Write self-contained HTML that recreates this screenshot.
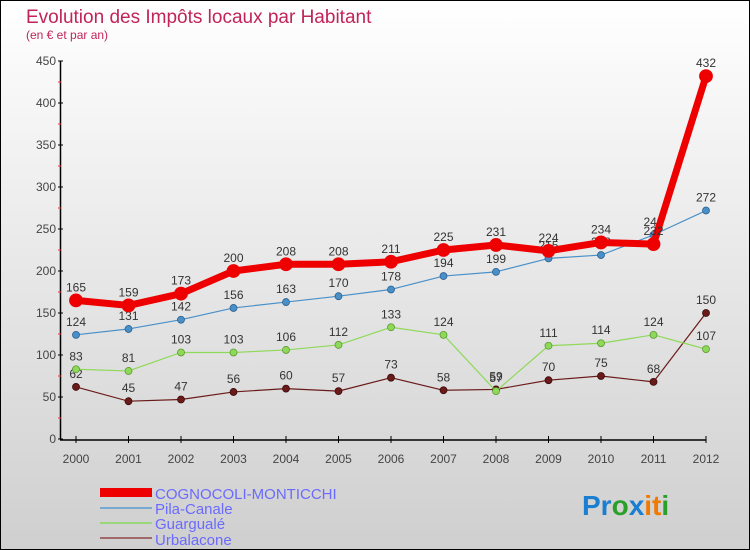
<!DOCTYPE html>
<html><head><meta charset="utf-8"><style>
body{margin:0}
svg{display:block;font-family:"Liberation Sans",sans-serif}
</style></head><body>
<svg width="750" height="550">
<defs><linearGradient id="bg" x1="0" y1="0" x2="0" y2="1"><stop offset="0" stop-color="#ffffff"/><stop offset="1" stop-color="#cfcfcf"/></linearGradient></defs>
<rect x="0.5" y="0.5" width="749" height="549" fill="url(#bg)" stroke="#000"/>
<text x="26" y="23" font-size="19" fill="#c0245a">Evolution des Impôts locaux par Habitant</text>
<text x="26" y="39" font-size="12" fill="#c0245a">(en € et par an)</text>
<g id="axes"></g>
<g id="series"></g>
<g>
<rect x="100" y="488" width="52" height="9" fill="#ee0000"/>
<text x="155" y="499" font-size="15" fill="#6a6aff">COGNOCOLI-MONTICCHI</text>
<rect x="100" y="507" width="52" height="2" fill="#7aa9cf"/>
<text x="155" y="514" font-size="15" fill="#6a6aff">Pila-Canale</text>
<rect x="100" y="522" width="52" height="2" fill="#9ad67a"/>
<text x="155" y="529" font-size="15" fill="#6a6aff">Guargualé</text>
<rect x="100" y="537" width="52" height="2" fill="#a06a6a"/>
<text x="155" y="545" font-size="15" fill="#6a6aff">Urbalacone</text>
</g>
<g font-size="28" font-weight="bold">
<text x="582" y="515"><tspan fill="#1a7fd0">Pr</tspan><tspan fill="#2aa02a">o</tspan><tspan fill="#1a7fd0">x</tspan><tspan fill="#f07a00">it</tspan><tspan fill="#2aa02a">i</tspan></text>
</g>
</svg>
<script>
const years=[2000,2001,2002,2003,2004,2005,2006,2007,2008,2009,2010,2011,2012];
const yTicks=[0,50,100,150,200,250,300,350,400,450];
const cognocoli=[165,159,173,200,208,208,211,225,231,224,234,232,432];
const pila=[124,131,142,156,163,170,178,194,199,215,219,243,272];
const guarguale=[83,81,103,103,106,112,133,124,57,111,114,124,107];
const urbalacone=[62,45,47,56,60,57,73,58,59,70,75,68,150];
const NS='http://www.w3.org/2000/svg';
const xs=i=>76+i*52.5;
const ys=v=>439-v*(378/450);
function mk(tag,attrs,parent){const e=document.createElementNS(NS,tag);for(const k in attrs)e.setAttribute(k,attrs[k]);parent.appendChild(e);return e;}
const ax=document.getElementById('axes');
let l=mk('line',{x1:60.5,y1:ys(450),x2:60.5,y2:ys(0),stroke:'#000','stroke-width':1.5},ax);


l=mk('line',{x1:60,y1:ys(0)+1,x2:706,y2:ys(0)+1,stroke:'#000','stroke-width':1.5},ax);


yTicks.forEach(v=>{
  mk('line',{x1:58,y1:ys(v),x2:63,y2:ys(v),stroke:'#000'},ax);
  if(v<450){mk('line',{x1:58,y1:ys(v+25),x2:61,y2:ys(v+25),stroke:'#e33'},ax);}
  const t=mk('text',{x:56,y:ys(v)+4,'font-size':12,fill:'#444','text-anchor':'end'},ax);
  t.textContent=v;
  
  
});
years.forEach((y,i)=>{
  mk('line',{x1:xs(i),y1:ys(0)-3,x2:xs(i),y2:ys(0)+4,stroke:'#000'},ax);
  const t=mk('text',{x:xs(i),y:ys(0)+24,'font-size':12,fill:'#444','text-anchor':'middle'},ax);
  t.textContent=y;
  
  
});
const sg=document.getElementById('series');
function draw(name,vals,color,w,r,stroke){
  const g=mk('g',{},sg);
  
  
  const p=mk('polyline',{points:vals.map((v,i)=>xs(i)+','+ys(v)).join(' '),fill:'none',stroke:color,'stroke-width':w,'stroke-linejoin':'round'},g);
  
  
  vals.forEach((v,i)=>{
    const c=mk('circle',{cx:xs(i),cy:ys(v),r:r,fill:color,stroke:stroke,'stroke-width':0.8},g);
    
    
    const t=mk('text',{x:xs(i),y:ys(v)-9,'font-size':12,fill:'#333','text-anchor':'middle'},g);
    t.textContent=v;
    
    
  });
}
draw('urbalacone',urbalacone,'#6b1a1a',1.2,3.5,'#3a0a0a');
draw('guarguale',guarguale,'#8fd95a',1.2,3.5,'#5a9a30');
draw('pila',pila,'#4a90c8',1.2,3.5,'#2a6090');
draw('cognocoli',cognocoli,'#ee0000',7,6.5,'#ee0000');
</script>
</body></html>
